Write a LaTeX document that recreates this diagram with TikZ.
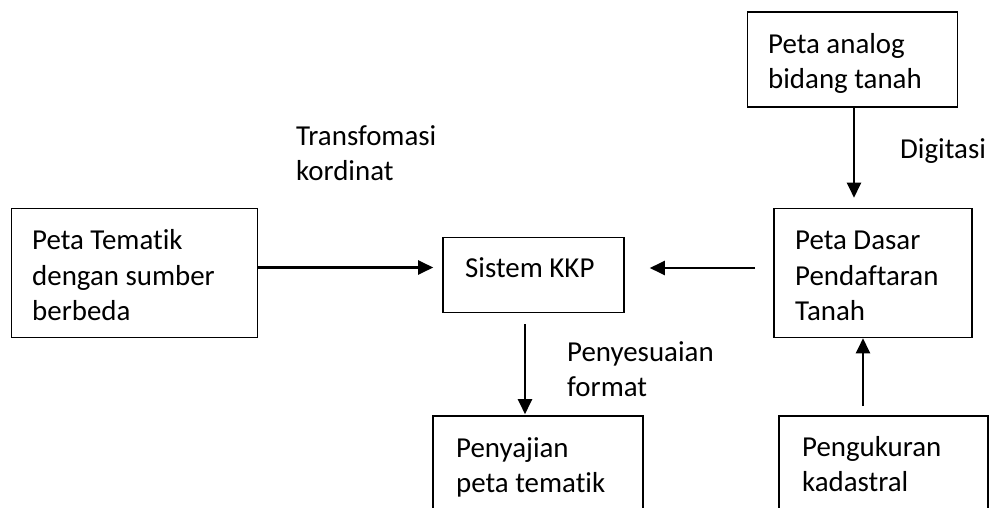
\documentclass[tikz,border=0pt]{standalone}
\usepackage{fontspec}
\setmainfont[Ligatures={NoCommon,NoContextual}]{Carlito}
\usetikzlibrary{arrows.meta}
\begin{document}
\begin{tikzpicture}[x=1pt,y=-1pt,
  box/.style={draw=black,line width=1.6pt,rectangle,inner sep=0pt},
  txt/.style={anchor=base west,inner sep=0pt,font=\fontsize{28.9}{35}\selectfont},
  arr/.style={draw=black,line width=2.4pt,-{Triangle[length=15pt,width=14pt]}}]
\useasboundingbox (0,0) rectangle (989,508);
\clip (0,0) rectangle (989,508);
\fill[white] (0,0) rectangle (989,508);
% boxes
\node[box,minimum width=210pt,minimum height=95pt] (ana) at (852.5,59.5) {};
\node[box,minimum width=198pt,minimum height=129pt] (dasar) at (873,273) {};
\node[box,minimum width=246pt,minimum height=129pt] (tem) at (134.5,273) {};
\node[box,minimum width=181pt,minimum height=75pt] (sis) at (533.5,275) {};
\node[box,minimum width=210pt,minimum height=130pt] (saj) at (538,481) {};
\node[box,minimum width=209pt,minimum height=130pt] (ukur) at (883.5,481) {};
% texts
\node[txt] (ana1) at (768,54) {Peta analog};
\node[txt] (ana2) at (768,89) {bidang tanah};
\node[txt] (das1) at (795,250) {Peta Dasar};
\node[txt] (das2) at (795,285) {Pendaftaran};
\node[txt] (das3) at (795,320) {Tanah};
\node[txt] (tem1) at (32,250) {Peta Tematik};
\node[txt] (tem2) at (32,285) {dengan sumber};
\node[txt] (tem3) at (32,320) {berbeda};
\node[txt] (sis1) at (465,277) {Sistem KKP};
\node[txt] (saj1) at (456,457) {Penyajian};
\node[txt] (saj2) at (456,492) {peta tematik};
\node[txt] (uk1) at (802,456) {Pengukuran};
\node[txt] (uk2) at (802,491) {kadastral};
% labels
\node[txt] (lt1) at (296,146) {Transfomasi};
\node[txt] (lt2) at (296,181) {kordinat};
\node[txt] (ld) at (900,159) {Digitasi};
\node[txt] (lp1) at (567,361) {Penyesuaian};
\node[txt] (lp2) at (567,396) {format};
% connectors
\coordinate (ad) at ([xshift=1.5pt]ana.south);
\draw[arr,shorten >=10pt] (ad) -- (ad |- dasar.north);
\coordinate (ud) at ([xshift=-10pt]dasar.south);
\draw[arr,shorten <=9pt] (ud |- ukur.north) -- (ud);
\coordinate (sd) at ([xshift=-8.5pt]sis.south);
\draw[arr,shorten <=11pt,shorten >=1pt] (sd) -- (sd |- saj.north);
\coordinate (ts) at ([yshift=5.5pt]tem.east);
\draw[arr,shorten >=9pt] (ts) -- (ts -| sis.west);
\coordinate (ds) at ([yshift=5pt]dasar.west);
\draw[arr,shorten <=18pt,shorten >=25pt] (ds) -- (ds -| sis.east);
\end{tikzpicture}
\end{document}
